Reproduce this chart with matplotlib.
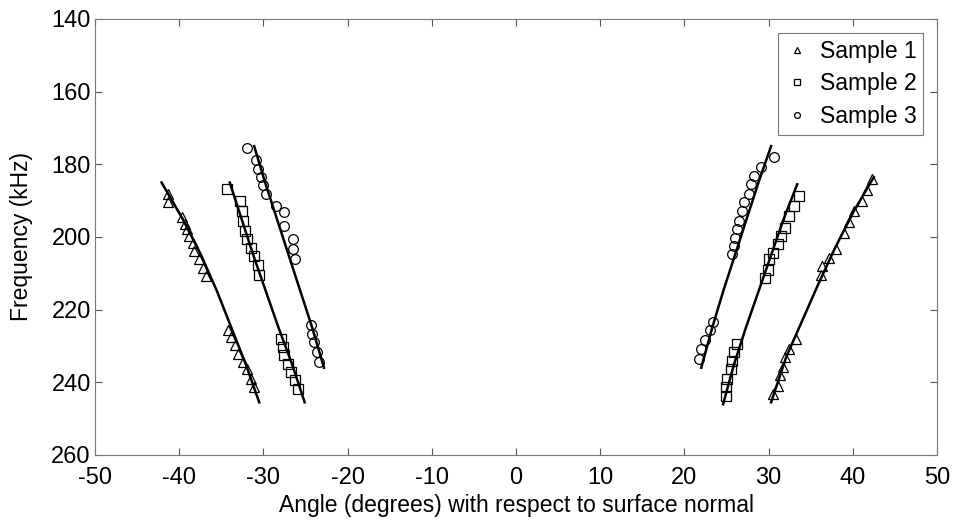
import numpy as np
from matplotlib import pyplot as plt

plt.rcParams['font.family'] = ['Liberation Sans', 'DejaVu Sans']
plt.rcParams['axes.unicode_minus'] = False

# measured points (angle in degrees, frequency in kHz)
s1_left_x = [-41.3, -41.3, -39.7, -39.3, -39.1, -38.8, -38.4, -38.2, -37.6, -37.2, -36.8,
             -34.2, -33.8, -33.4, -33.0, -32.4, -32.0, -31.5, -31.1]
s1_left_y = [188.1, 190.5, 194.6, 196.4, 197.9, 199.7, 201.6, 203.9, 206.2, 208.5, 210.8,
             225.6, 227.5, 229.8, 232.1, 234.4, 236.3, 239.1, 241.4]
s1_right_x = [42.3, 41.7, 41.1, 40.1, 39.5, 38.9, 38.0, 37.2, 36.4, 36.2,
              33.2, 32.4, 32.0, 31.7, 31.3, 31.1, 30.5]
s1_right_y = [184.0, 187.2, 190.0, 192.8, 196.0, 198.8, 203.4, 205.7, 208.1, 210.4,
              228.0, 230.7, 233.1, 235.8, 238.1, 240.9, 243.2]

s2_left_x = [-34.3, -32.8, -32.6, -32.4, -32.2, -31.9, -31.5, -31.1, -30.7, -30.5,
             -27.9, -27.7, -27.5, -27.1, -26.7, -26.3, -25.9]
s2_left_y = [186.8, 190.0, 192.8, 195.6, 198.3, 200.6, 203.0, 205.3, 207.6, 210.4,
             228.0, 230.3, 232.6, 234.9, 237.2, 239.5, 241.9]
s2_right_x = [33.6, 33.0, 32.4, 32.0, 31.5, 31.1, 30.5, 30.1, 29.9, 29.6,
              26.3, 25.9, 25.7, 25.5, 25.1, 24.9, 24.9]
s2_right_y = [188.6, 191.4, 194.2, 197.4, 199.7, 202.0, 204.4, 206.2, 209.0, 211.3,
              229.4, 231.7, 234.0, 236.3, 239.1, 241.4, 243.7]

s3_left_x = [-32.0, -30.9, -30.7, -30.3, -30.1, -29.7, -28.5, -27.5, -27.5, -26.5, -26.5, -26.3,
             -24.4, -24.2, -24.0, -23.6, -23.4]
s3_left_y = [175.6, 178.9, 181.2, 183.5, 185.8, 188.1, 191.4, 193.2, 196.9, 200.6, 203.4, 206.2,
             224.3, 226.6, 228.9, 231.7, 234.4]
s3_right_x = [30.6, 29.1, 28.3, 27.9, 27.7, 27.1, 26.9, 26.5, 26.3, 26.0, 25.9, 25.7,
              23.4, 23.0, 22.4, 22.0, 21.7]
s3_right_y = [178.0, 180.7, 183.1, 185.4, 188.1, 190.5, 192.8, 195.6, 197.9, 200.2, 202.5, 204.8,
              223.3, 225.6, 228.4, 230.7, 233.5]

# fitted curves
fit_y1 = [185, 195, 205, 215, 225, 235, 245.5]
fit1_left_x = [-42.1, -39.6, -37.4, -35.5, -33.8, -32.1, -30.5]
fit2_left_x = [-34.0, -32.6, -31.2, -29.7, -28.2, -26.6, -25.1]
fit3_y = [175, 185, 195, 205, 215, 225, 236]
fit3_left_x = [-31.1, -29.8, -28.4, -27.0, -25.6, -24.2, -22.8]
fit3_right_x = [30.3, 28.8, 27.4, 26.0, 24.6, 23.3, 22.0]
fit2_right_y = [185.5, 195, 205, 215, 225, 235, 246]
fit2_right_x = [33.4, 31.8, 30.3, 28.8, 27.3, 25.9, 24.6]
fit1_right_y = [183.5, 193, 203, 213, 223, 233, 245.5]
fit1_right_x = [42.5, 40.1, 37.9, 35.9, 34.0, 32.1, 30.3]

labels = ['Sample 1', 'Sample 2', 'Sample 3']

fig = plt.figure(figsize=(9.56, 5.26), dpi=100)
ax = fig.add_axes([0.0994, 0.1350, 0.8807, 0.829])

mk = dict(linestyle='none', markerfacecolor='none', markeredgecolor='black',
          markeredgewidth=0.9)
ax.plot(s1_left_x, s1_left_y, marker='^', markersize=7.5, label=labels[0], **mk)
ax.plot(s2_left_x, s2_left_y, marker='s', markersize=6.5, label=labels[1], **mk)
ax.plot(s3_left_x, s3_left_y, marker='o', markersize=7, label=labels[2], **mk)
ax.plot(s1_right_x, s1_right_y, marker='^', markersize=7.5, **mk)
ax.plot(s2_right_x, s2_right_y, marker='s', markersize=6.5, **mk)
ax.plot(s3_right_x, s3_right_y, marker='o', markersize=7, **mk)

for fx, fy in [(fit1_left_x, fit_y1), (fit2_left_x, fit_y1), (fit3_left_x, fit3_y),
               (fit3_right_x, fit3_y), (fit2_right_x, fit2_right_y), (fit1_right_x, fit1_right_y)]:
    ax.plot(fx, fy, color='black', linewidth=1.8)

ax.set_xlim(-50, 50)
ax.set_ylim(260, 140)
ax.set_xticks(np.arange(-50, 51, 10))
ax.set_yticks(np.arange(140, 261, 20))
ax.tick_params(direction='in', top=True, right=True, length=5, labelsize=17, color='#555555')
ax.tick_params(axis='x', pad=9)
ax.tick_params(axis='y', pad=3)
for sp in ax.spines.values():
    sp.set_color('#777777')
ax.set_xlabel('Angle (degrees) with respect to surface normal', fontsize=16.5, labelpad=3)
ax.set_ylabel('Frequency (kHz)', fontsize=16.5, labelpad=13)

leg = ax.legend(loc='upper right', fontsize=16.5, markerscale=0.6, fancybox=False,
                edgecolor='#555555', handlelength=1.0, handletextpad=0.5,
                borderaxespad=0.6, labelspacing=0.42, borderpad=0.3)
leg.get_frame().set_linewidth(0.8)

fig.savefig('out.png', dpi=100)
